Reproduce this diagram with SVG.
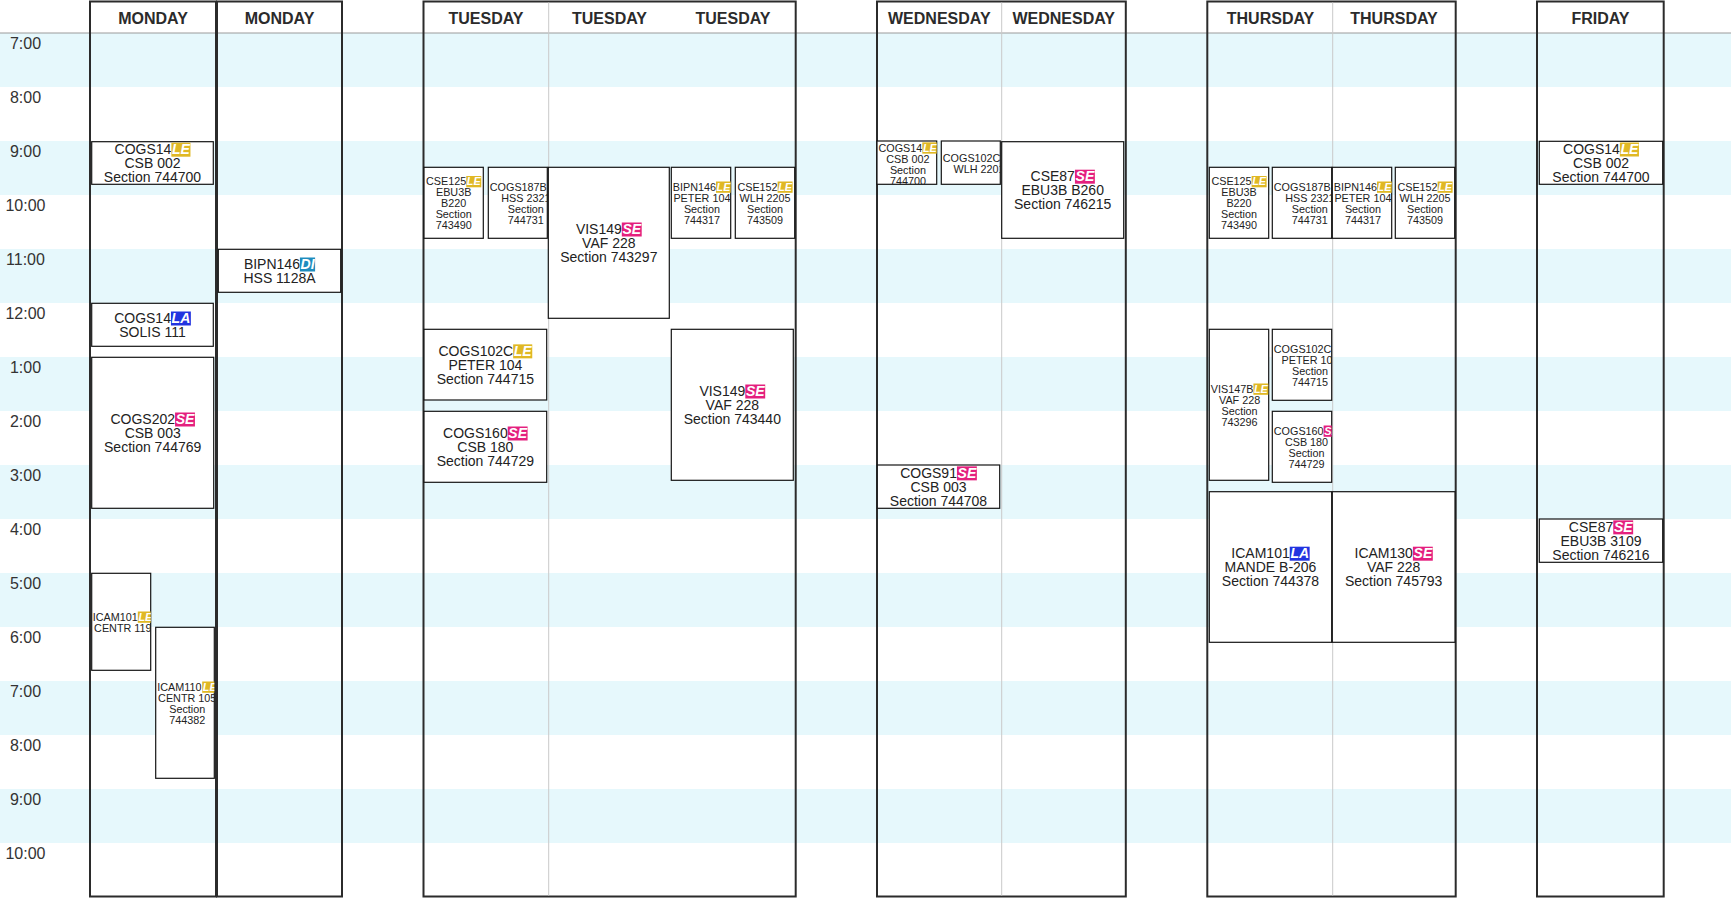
<svg xmlns="http://www.w3.org/2000/svg" width="1731" height="904" viewBox="0 0 1731 904">
<style>
text{font-family:"Liberation Sans",Arial,Helvetica,sans-serif}
.band{fill:#e6f8fc}
.tl{font-size:16px;fill:#333;text-anchor:middle}
.hd{font-size:16px;font-weight:bold;fill:#2b2b2b;text-anchor:middle}
.col{fill:none;stroke:#2b2b2b;stroke-width:2}
.sep{stroke:#c9c9c9;stroke-width:1}
.ev{fill:#fff;stroke:#141414;stroke-width:1.2}
.L{font-size:14px;fill:#222}
.S{font-size:10.8px;fill:#222}
.m{text-anchor:middle}
.b{font-weight:bold;font-style:italic;fill:#fff}
.LE{fill:#e0b824}.SE{fill:#e4207e}.LA{fill:#2234e0}.DI{fill:#1e8cbe}
</style>
<defs>
<clipPath id="c1"><rect x="91.7" y="573.3" width="59" height="97"/></clipPath>
<clipPath id="c2"><rect x="155.7" y="627.3" width="58.6" height="151"/></clipPath>
<clipPath id="c3"><rect x="424" y="167.3" width="59.3" height="71"/></clipPath>
<clipPath id="c4"><rect x="488.3" y="167.3" width="59" height="71"/></clipPath>
<clipPath id="c5"><rect x="671.3" y="167.3" width="59.4" height="71"/></clipPath>
<clipPath id="c6"><rect x="735.3" y="167.3" width="59.4" height="71"/></clipPath>
<clipPath id="c7"><rect x="877" y="141" width="59.7" height="43.3"/></clipPath>
<clipPath id="c8"><rect x="941.3" y="141" width="59" height="43.3"/></clipPath>
<clipPath id="c9"><rect x="1209.3" y="167.3" width="59.4" height="71"/></clipPath>
<clipPath id="c10"><rect x="1272.3" y="167.3" width="59.4" height="71"/></clipPath>
<clipPath id="c11"><rect x="1332.3" y="167.3" width="59.4" height="71"/></clipPath>
<clipPath id="c12"><rect x="1395.3" y="167.3" width="59.4" height="71"/></clipPath>
<clipPath id="c13"><rect x="1209.3" y="329.3" width="59.4" height="151"/></clipPath>
<clipPath id="c14"><rect x="1272.3" y="329.3" width="59.4" height="71"/></clipPath>
<clipPath id="c15"><rect x="1272.3" y="411.3" width="59.4" height="71"/></clipPath>
</defs>
<rect width="1731" height="904" fill="#fff"/>
<g id="bands">
<rect class="band" x="0" y="33" width="1731" height="54"/>
<rect class="band" x="0" y="141" width="1731" height="54"/>
<rect class="band" x="0" y="249" width="1731" height="54"/>
<rect class="band" x="0" y="357" width="1731" height="54"/>
<rect class="band" x="0" y="465" width="1731" height="54"/>
<rect class="band" x="0" y="573" width="1731" height="54"/>
<rect class="band" x="0" y="681" width="1731" height="54"/>
<rect class="band" x="0" y="789" width="1731" height="54"/>
<line x1="0" y1="33" x2="1731" y2="33" stroke="#9a9a9a" stroke-width="1"/>
</g>
<g id="times">
<text class="tl" x="25.5" y="49.3">7:00</text>
<text class="tl" x="25.5" y="103.3">8:00</text>
<text class="tl" x="25.5" y="157.3">9:00</text>
<text class="tl" x="25.5" y="211.3">10:00</text>
<text class="tl" x="25.5" y="265.3">11:00</text>
<text class="tl" x="25.5" y="319.3">12:00</text>
<text class="tl" x="25.5" y="373.3">1:00</text>
<text class="tl" x="25.5" y="427.3">2:00</text>
<text class="tl" x="25.5" y="481.3">3:00</text>
<text class="tl" x="25.5" y="535.3">4:00</text>
<text class="tl" x="25.5" y="589.3">5:00</text>
<text class="tl" x="25.5" y="643.3">6:00</text>
<text class="tl" x="25.5" y="697.3">7:00</text>
<text class="tl" x="25.5" y="751.3">8:00</text>
<text class="tl" x="25.5" y="805.3">9:00</text>
<text class="tl" x="25.5" y="859.3">10:00</text>
</g>
<g id="col-monday-1"><rect class="col" x="90" y="1.5" width="126" height="895"/><text class="hd" x="153" y="24">MONDAY</text></g>
<g id="col-monday-2"><rect class="col" x="217" y="1.5" width="125" height="895"/><text class="hd" x="279.5" y="24">MONDAY</text></g>
<g id="col-tuesday"><rect class="col" x="423.5" y="1.5" width="372.2" height="895"/><line class="sep" x1="548.7" y1="2.5" x2="548.7" y2="895.5"/><text class="hd" x="486" y="24">TUESDAY</text><text class="hd" x="609.5" y="24">TUESDAY</text><text class="hd" x="733" y="24">TUESDAY</text></g>
<g id="col-wednesday"><rect class="col" x="877" y="1.5" width="248.8" height="895"/><line class="sep" x1="1001.7" y1="2.5" x2="1001.7" y2="895.5"/><text class="hd" x="939.3" y="24">WEDNESDAY</text><text class="hd" x="1063.7" y="24">WEDNESDAY</text></g>
<g id="col-thursday"><rect class="col" x="1207.3" y="1.5" width="248.4" height="895"/><line class="sep" x1="1332.7" y1="2.5" x2="1332.7" y2="895.5"/><text class="hd" x="1270.5" y="24">THURSDAY</text><text class="hd" x="1394" y="24">THURSDAY</text></g>
<g id="col-friday"><rect class="col" x="1537" y="1.5" width="126.7" height="895"/><text class="hd" x="1600.5" y="24">FRIDAY</text></g>

<g id="mon-cogs14-le">
<rect class="ev" x="91.7" y="141.7" width="121.6" height="42.6"/>
<text class="L" x="114.55" y="154">COGS14</text><rect class="LE" x="171.35" y="142.7" width="19.1" height="14"/><text class="L b" x="172" y="154">LE</text>
<text class="L m" x="152.5" y="168">CSB 002</text><text class="L m" x="152.5" y="182">Section 744700</text>
</g>
<g id="mon-cogs14-la">
<rect class="ev" x="91.7" y="303.3" width="121.6" height="43"/>
<text class="L" x="114.15" y="322.8">COGS14</text><rect class="LA" x="170.95" y="311.5" width="19.9" height="14"/><text class="L b" x="171.6" y="322.8">LA</text>
<text class="L m" x="152.5" y="336.8">SOLIS 111</text>
</g>
<g id="mon-cogs202-se">
<rect class="ev" x="91.7" y="357.3" width="122" height="151"/>
<text class="L" x="110.45" y="423.8">COGS202</text><rect class="SE" x="175.05" y="412.5" width="19.9" height="14"/><text class="L b" x="175.7" y="423.8">SE</text>
<text class="L m" x="152.7" y="437.8">CSB 003</text><text class="L m" x="152.7" y="451.8">Section 744769</text>
</g>
<g id="mon-icam101-le">
<rect class="ev" x="91.7" y="573.3" width="59" height="97"/>
<g clip-path="url(#c1)">
<text class="S" x="92.8" y="620.9">ICAM101</text><rect class="LE" x="137.8" y="611.5" width="15" height="11.3"/><text class="S b" x="138.4" y="620.9">LE</text>
<text class="S m" x="122.8" y="631.9">CENTR 119</text>
</g></g>
<g id="mon-icam110-le">
<rect class="ev" x="155.7" y="627.3" width="58.6" height="151"/>
<g clip-path="url(#c2)">
<text class="S" x="157.2" y="690.9">ICAM110</text><rect class="LE" x="202.2" y="681.5" width="15" height="11.3"/><text class="S b" x="202.8" y="690.9">LE</text>
<text class="S m" x="187.2" y="701.9">CENTR 105</text><text class="S m" x="187.2" y="712.9">Section</text><text class="S m" x="187.2" y="723.9">744382</text>
</g></g>
<g id="mon-bipn146-di">
<rect class="ev" x="218.3" y="249.3" width="122.4" height="43"/>
<text class="L" x="243.9" y="268.8">BIPN146</text><rect class="DI" x="299.9" y="257.5" width="15.2" height="14"/><text class="L b" x="300.6" y="268.8">DI</text>
<text class="L m" x="279.5" y="282.8">HSS 1128A</text>
</g>

<g id="tue-cse125-le">
<rect class="ev" x="424" y="167.3" width="59.3" height="71"/>
<g clip-path="url(#c3)">
<text class="S" x="426.05" y="185.4">CSE125</text><rect class="LE" x="466.25" y="176" width="15" height="11.3"/><text class="S b" x="466.85" y="185.4">LE</text>
<text class="S m" x="453.65" y="196.4">EBU3B</text><text class="S m" x="453.65" y="207.4">B220</text><text class="S m" x="453.65" y="218.4">Section</text><text class="S m" x="453.65" y="229.4">743490</text>
</g></g>
<g id="tue-cogs187b">
<rect class="ev" x="488.3" y="167.3" width="59" height="71"/>
<g clip-path="url(#c4)">
<text class="S" x="489.8" y="190.9">COGS187B</text>
<text class="S m" x="525.8" y="201.9">HSS 2321</text><text class="S m" x="525.8" y="212.9">Section</text><text class="S m" x="525.8" y="223.9">744731</text>
</g></g>
<g id="tue-vis149-se-1">
<rect class="ev" x="548.3" y="167.3" width="121" height="151"/>
<text class="L" x="575.9" y="233.8">VIS149</text><rect class="SE" x="621.8" y="222.5" width="19.9" height="14"/><text class="L b" x="622.45" y="233.8">SE</text>
<text class="L m" x="608.8" y="247.8">VAF 228</text><text class="L m" x="608.8" y="261.8">Section 743297</text>
</g>
<g id="tue-bipn146-le">
<rect class="ev" x="671.3" y="167.3" width="59.4" height="71"/>
<g clip-path="url(#c5)">
<text class="S" x="672.8" y="190.9">BIPN146</text><rect class="LE" x="716" y="181.5" width="15" height="11.3"/><text class="S b" x="716.6" y="190.9">LE</text>
<text class="S m" x="701.9" y="201.9">PETER 104</text><text class="S m" x="701.9" y="212.9">Section</text><text class="S m" x="701.9" y="223.9">744317</text>
</g></g>
<g id="tue-cse152-le">
<rect class="ev" x="735.3" y="167.3" width="59.4" height="71"/>
<g clip-path="url(#c6)">
<text class="S" x="737.4" y="190.9">CSE152</text><rect class="LE" x="777.6" y="181.5" width="15" height="11.3"/><text class="S b" x="778.2" y="190.9">LE</text>
<text class="S m" x="765" y="201.9">WLH 2205</text><text class="S m" x="765" y="212.9">Section</text><text class="S m" x="765" y="223.9">743509</text>
</g></g>
<g id="tue-cogs102c-le">
<rect class="ev" x="424" y="329.3" width="122.7" height="70.7"/>
<text class="L" x="438.45" y="355.65">COGS102C</text><rect class="LE" x="513.15" y="344.35" width="19.1" height="14"/><text class="L b" x="513.8" y="355.65">LE</text>
<text class="L m" x="485.35" y="369.65">PETER 104</text><text class="L m" x="485.35" y="383.65">Section 744715</text>
</g>
<g id="tue-cogs160-se">
<rect class="ev" x="424" y="411.3" width="122.7" height="71"/>
<text class="L" x="443.1" y="437.8">COGS160</text><rect class="SE" x="507.7" y="426.5" width="19.9" height="14"/><text class="L b" x="508.35" y="437.8">SE</text>
<text class="L m" x="485.35" y="451.8">CSB 180</text><text class="L m" x="485.35" y="465.8">Section 744729</text>
</g>
<g id="tue-vis149-se-2">
<rect class="ev" x="671.3" y="329.3" width="122" height="151"/>
<text class="L" x="699.4" y="395.8">VIS149</text><rect class="SE" x="745.3" y="384.5" width="19.9" height="14"/><text class="L b" x="745.95" y="395.8">SE</text>
<text class="L m" x="732.3" y="409.8">VAF 228</text><text class="L m" x="732.3" y="423.8">Section 743440</text>
</g>

<g id="wed-cogs14-le">
<rect class="ev" x="877" y="141" width="59.7" height="43.3"/>
<g clip-path="url(#c7)">
<text class="S" x="878.5" y="151.75">COGS14</text><rect class="LE" x="922.3" y="142.35" width="15" height="11.3"/><text class="S b" x="922.9" y="151.75">LE</text>
<text class="S m" x="907.9" y="162.75">CSB 002</text><text class="S m" x="907.9" y="173.75">Section</text><text class="S m" x="907.9" y="184.75">744700</text>
</g></g>
<g id="wed-cogs102c">
<rect class="ev" x="941.3" y="141" width="59" height="43.3"/>
<g clip-path="url(#c8)">
<text class="S" x="942.8" y="161.75">COGS102C</text>
<text class="S m" x="979.1" y="172.75">WLH 2201</text>
</g></g>
<g id="wed-cse87-se">
<rect class="ev" x="1001.7" y="141.7" width="122" height="96.6"/>
<text class="L" x="1030.55" y="181">CSE87</text><rect class="SE" x="1074.95" y="169.7" width="19.9" height="14"/><text class="L b" x="1075.6" y="181">SE</text>
<text class="L m" x="1062.7" y="195">EBU3B B260</text><text class="L m" x="1062.7" y="209">Section 746215</text>
</g>
<g id="wed-cogs91-se">
<rect class="ev" x="877.3" y="465" width="122.4" height="43.3"/>
<text class="L" x="900.15" y="477.65">COGS91</text><rect class="SE" x="956.95" y="466.35" width="19.9" height="14"/><text class="L b" x="957.6" y="477.65">SE</text>
<text class="L m" x="938.5" y="491.65">CSB 003</text><text class="L m" x="938.5" y="505.65">Section 744708</text>
</g>

<g id="thu-cse125-le">
<rect class="ev" x="1209.3" y="167.3" width="59.4" height="71"/>
<g clip-path="url(#c9)">
<text class="S" x="1211.4" y="185.4">CSE125</text><rect class="LE" x="1251.6" y="176" width="15" height="11.3"/><text class="S b" x="1252.2" y="185.4">LE</text>
<text class="S m" x="1239" y="196.4">EBU3B</text><text class="S m" x="1239" y="207.4">B220</text><text class="S m" x="1239" y="218.4">Section</text><text class="S m" x="1239" y="229.4">743490</text>
</g></g>
<g id="thu-cogs187b">
<rect class="ev" x="1272.3" y="167.3" width="59.4" height="71"/>
<g clip-path="url(#c10)">
<text class="S" x="1273.8" y="190.9">COGS187B</text>
<text class="S m" x="1309.8" y="201.9">HSS 2321</text><text class="S m" x="1309.8" y="212.9">Section</text><text class="S m" x="1309.8" y="223.9">744731</text>
</g></g>
<g id="thu-bipn146-le">
<rect class="ev" x="1332.3" y="167.3" width="59.4" height="71"/>
<g clip-path="url(#c11)">
<text class="S" x="1333.8" y="190.9">BIPN146</text><rect class="LE" x="1377" y="181.5" width="15" height="11.3"/><text class="S b" x="1377.6" y="190.9">LE</text>
<text class="S m" x="1362.9" y="201.9">PETER 104</text><text class="S m" x="1362.9" y="212.9">Section</text><text class="S m" x="1362.9" y="223.9">744317</text>
</g></g>
<g id="thu-cse152-le">
<rect class="ev" x="1395.3" y="167.3" width="59.4" height="71"/>
<g clip-path="url(#c12)">
<text class="S" x="1397.4" y="190.9">CSE152</text><rect class="LE" x="1437.6" y="181.5" width="15" height="11.3"/><text class="S b" x="1438.2" y="190.9">LE</text>
<text class="S m" x="1425" y="201.9">WLH 2205</text><text class="S m" x="1425" y="212.9">Section</text><text class="S m" x="1425" y="223.9">743509</text>
</g></g>
<g id="thu-vis147b-le">
<rect class="ev" x="1209.3" y="329.3" width="59.4" height="151"/>
<g clip-path="url(#c13)">
<text class="S" x="1210.8" y="392.9">VIS147B</text><rect class="LE" x="1253.4" y="383.5" width="15" height="11.3"/><text class="S b" x="1254" y="392.9">LE</text>
<text class="S m" x="1239.6" y="403.9">VAF 228</text><text class="S m" x="1239.6" y="414.9">Section</text><text class="S m" x="1239.6" y="425.9">743296</text>
</g></g>
<g id="thu-cogs102c">
<rect class="ev" x="1272.3" y="329.3" width="59.4" height="71"/>
<g clip-path="url(#c14)">
<text class="S" x="1273.8" y="352.9">COGS102C</text>
<text class="S m" x="1310.1" y="363.9">PETER 104</text><text class="S m" x="1310.1" y="374.9">Section</text><text class="S m" x="1310.1" y="385.9">744715</text>
</g></g>
<g id="thu-cogs160-se">
<rect class="ev" x="1272.3" y="411.3" width="59.4" height="71"/>
<g clip-path="url(#c15)">
<text class="S" x="1273.8" y="434.9">COGS160</text><rect class="SE" x="1323.6" y="425.5" width="15.6" height="11.3"/><text class="S b" x="1324.2" y="434.9">SE</text>
<text class="S m" x="1306.5" y="445.9">CSB 180</text><text class="S m" x="1306.5" y="456.9">Section</text><text class="S m" x="1306.5" y="467.9">744729</text>
</g></g>
<g id="thu-icam101-la">
<rect class="ev" x="1209.3" y="491.7" width="122.4" height="150.6"/>
<text class="L" x="1231.35" y="558">ICAM101</text><rect class="LA" x="1289.75" y="546.7" width="19.9" height="14"/><text class="L b" x="1290.4" y="558">LA</text>
<text class="L m" x="1270.5" y="572">MANDE B-206</text><text class="L m" x="1270.5" y="586">Section 744378</text>
</g>
<g id="thu-icam130-se">
<rect class="ev" x="1332.3" y="491.7" width="122.7" height="150.6"/>
<text class="L" x="1354.5" y="558">ICAM130</text><rect class="SE" x="1412.9" y="546.7" width="19.9" height="14"/><text class="L b" x="1413.55" y="558">SE</text>
<text class="L m" x="1393.65" y="572">VAF 228</text><text class="L m" x="1393.65" y="586">Section 745793</text>
</g>

<g id="fri-cogs14-le">
<rect class="ev" x="1539.3" y="141.3" width="123.4" height="43"/>
<text class="L" x="1563.05" y="153.8">COGS14</text><rect class="LE" x="1619.85" y="142.5" width="19.1" height="14"/><text class="L b" x="1620.5" y="153.8">LE</text>
<text class="L m" x="1601" y="167.8">CSB 002</text><text class="L m" x="1601" y="181.8">Section 744700</text>
</g>
<g id="fri-cse87-se">
<rect class="ev" x="1539.3" y="519" width="123.4" height="43.3"/>
<text class="L" x="1568.85" y="531.65">CSE87</text><rect class="SE" x="1613.25" y="520.35" width="19.9" height="14"/><text class="L b" x="1613.9" y="531.65">SE</text>
<text class="L m" x="1601" y="545.65">EBU3B 3109</text><text class="L m" x="1601" y="559.65">Section 746216</text>
</g>
<g id="connectors"/>
</svg>
